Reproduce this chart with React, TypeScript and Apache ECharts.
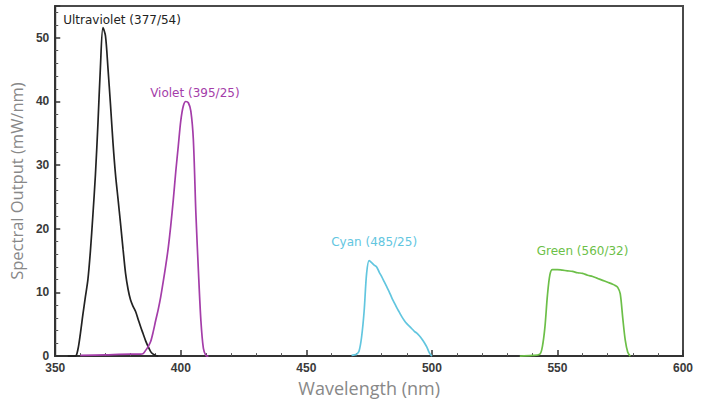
import React, { useEffect, useRef } from "react";
import * as echarts from "echarts";

const xTicks = [350, 400, 450, 500, 550, 600];
const yTicks = [0, 10, 20, 30, 40, 50];

const uvWavelengths = [355, 358, 359, 360, 361, 362, 363, 364, 365, 366, 367, 368, 369, 370, 371, 372, 373, 374, 375, 376, 377, 378, 379, 380, 381, 382, 383, 384, 385, 386, 387, 388, 389, 390, 391];
const uvValues = [0, 0, 1, 3.5, 6.5, 9.3, 12, 16.5, 22.2, 28.5, 36.5, 45.5, 51.6, 50.3, 45.2, 39.5, 33.5, 28.5, 24.7, 20.8, 16.8, 13, 10.5, 8.8, 7.8, 7, 5.8, 4.6, 3.5, 2.4, 1.5, 0.7, 0.3, 0.1, 0];

const violetWavelengths = [360, 370, 380, 384, 385, 386, 387, 388, 389, 390, 391, 392, 393, 394, 395, 396, 397, 398, 399, 400, 401, 402, 403, 404, 405, 406, 407, 408, 409, 410, 411];
const violetValues = [0.1, 0.2, 0.3, 0.3, 0.4, 0.9, 1.5, 2.3, 3.8, 5.6, 7.3, 9.3, 11.7, 14.2, 17, 20.5, 24.5, 29, 33, 37, 39.3, 40, 39.8, 38.5, 34, 22.5, 13.5, 5.6, 1.2, 0.1, 0];

const cyanWavelengths = [468, 470, 471, 472, 473, 474, 475, 476, 477, 478, 479, 480, 481, 482, 483, 484, 485, 486, 487, 488, 489, 490, 491, 492, 493, 494, 495, 496, 497, 498, 499, 500];
const cyanValues = [0.1, 0.3, 0.8, 3, 7, 13, 15, 14.7, 14.3, 14, 13.2, 12.5, 11.7, 10.9, 10.1, 9.2, 8.4, 7.6, 6.9, 6.2, 5.6, 5.1, 4.7, 4.3, 3.9, 3.6, 3.2, 2.7, 2.1, 1.4, 0.5, 0];

const greenWavelengths = [535, 540, 543, 544, 545, 546, 547, 548, 550, 552, 554, 556, 558, 560, 562, 564, 566, 568, 570, 572, 573, 574, 575, 576, 577, 578, 579];
const greenValues = [0, 0.1, 0.3, 1.5, 4.5, 9.5, 12.8, 13.6, 13.6, 13.5, 13.4, 13.3, 13.1, 13, 12.7, 12.5, 12.2, 11.9, 11.6, 11.3, 11.1, 10.8, 9.8, 6, 2.5, 0.6, 0];

const seriesNames = ["Ultraviolet (377/54)", "Violet (395/25)", "Cyan (485/25)", "Green (560/32)"];
const seriesColors = ["#222222", "#a43da9", "#62c6df", "#6cbf48"];
const labelAnchors: [number, number][] = [[376.6, 52.8], [405.6, 41.3], [477, 17.9], [560, 16.5]];

const zip = (xs: number[], ys: number[]) => xs.map((x, i) => [x, ys[i]]);

export default function App() {
  const ref = useRef<HTMLDivElement>(null);
  useEffect(() => {
    if (!ref.current) return;
    const chart = echarts.init(ref.current, null, { renderer: "svg" });
    const datasets = [
      zip(uvWavelengths, uvValues),
      zip(violetWavelengths, violetValues),
      zip(cyanWavelengths, cyanValues),
      zip(greenWavelengths, greenValues),
    ];
    chart.setOption({
      animation: false,
      backgroundColor: "#ffffff",
      grid: {
        left: 54,
        right: 19,
        top: 6,
        bottom: 43,
        show: true,
        borderColor: "#4a4a4a",
        borderWidth: 2,
      },
      xAxis: {
        type: "value",
        min: xTicks[0],
        max: xTicks[xTicks.length - 1],
        interval: 50,
        name: "Wavelength (nm)",
        nameLocation: "middle",
        nameGap: 19,
        nameTextStyle: { fontFamily: "Open Sans", fontSize: 18, color: "#888888" },
        axisLine: { show: true, lineStyle: { color: "#333333", width: 2 } },
        axisTick: { show: true, inside: true, length: 6, lineStyle: { color: "#333333", width: 1.5 } },
        minorTick: { show: true, splitNumber: 5, length: 3, lineStyle: { color: "#555555", width: 1 } },
        axisLabel: { fontFamily: "Liberation Sans", fontSize: 12, fontWeight: "bold", color: "#3a3a3a", margin: 6 },
        splitLine: { show: false },
      },
      yAxis: {
        type: "value",
        min: yTicks[0],
        max: 55,
        interval: 10,
        name: "Spectral Output (mW/nm)",
        nameLocation: "middle",
        nameGap: 28,
        nameTextStyle: { fontFamily: "Open Sans", fontSize: 16.5, color: "#888888" },
        axisLine: { show: true, lineStyle: { color: "#333333", width: 2 } },
        axisTick: { show: true, inside: true, length: 5, lineStyle: { color: "#333333", width: 1.5 } },
        minorTick: { show: true, splitNumber: 5, length: 3, lineStyle: { color: "#555555", width: 1 } },
        axisLabel: {
          fontFamily: "Liberation Sans",
          fontSize: 12,
          fontWeight: "bold",
          color: "#3a3a3a",
          margin: 6,
          formatter: (v: number) => (yTicks.includes(v) ? String(v) : ""),
        },
        splitLine: { show: false },
      },
      series: datasets.map((data, i) => ({
        type: "line",
        name: seriesNames[i],
        data,
        smooth: 0.3,
        showSymbol: false,
        lineStyle: { color: seriesColors[i], width: 1.7 },
        itemStyle: { color: seriesColors[i] },
        markPoint: {
          silent: true,
          symbol: "circle",
          symbolSize: 1,
          itemStyle: { color: "rgba(0,0,0,0)" },
          label: {
            show: true,
            position: "inside",
            formatter: seriesNames[i],
            fontFamily: "DejaVu Sans",
            fontSize: 12,
            color: seriesColors[i],
          },
          data: [{ coord: labelAnchors[i], name: seriesNames[i] }],
        },
      })),
    });
    return () => chart.dispose();
  }, []);
  return (
    <div
      ref={ref}
      style={{ position: "fixed", left: 0, top: 0, width: 702, height: 402 }}
    />
  );
}
